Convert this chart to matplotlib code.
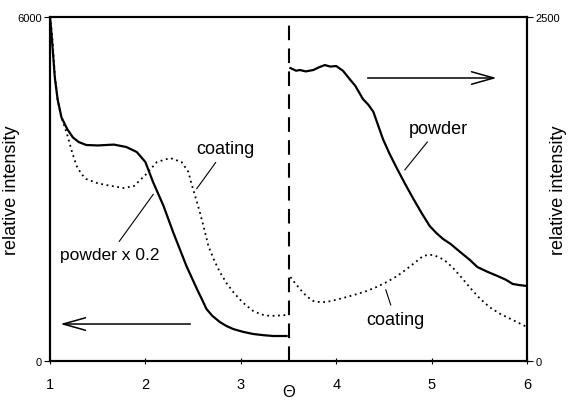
import matplotlib
matplotlib.use('Agg')
import matplotlib.pyplot as plt

plt.rcParams['font.family'] = ['Liberation Sans', 'DejaVu Sans']

# left part (left axis): powder x 0.2 and coating
theta_pl = [1.0, 1.02, 1.05, 1.08, 1.12, 1.18, 1.24, 1.3, 1.38, 1.5, 1.59, 1.67, 1.8, 1.91,
            2.0, 2.08, 2.19, 2.29, 2.43, 2.54, 2.6, 2.64, 2.7, 2.78, 2.85, 2.92, 3.02, 3.13,
            3.24, 3.34, 3.48]
powder_l = [6000, 5616, 4950, 4560, 4250, 4047, 3900, 3820, 3768, 3760, 3768, 3775, 3733, 3645,
            3470, 3122, 2704, 2250, 1657, 1256, 1050, 907, 790, 680, 610, 558, 510, 471,
            450, 436, 436]
theta_cl = [1.0, 1.02, 1.05, 1.08, 1.12, 1.18, 1.23, 1.28, 1.33, 1.38, 1.5, 1.59, 1.77, 1.88,
            2.0, 2.12, 2.26, 2.38, 2.45, 2.49, 2.53, 2.57, 2.62, 2.66, 2.72, 2.78, 2.85, 2.92,
            3.02, 3.13, 3.22, 3.31, 3.48]
coating_l = [6000, 5740, 5000, 4550, 4250, 3950, 3650, 3400, 3260, 3175, 3100, 3070, 3017, 3052,
             3245, 3470, 3541, 3470, 3300, 3052, 2830, 2600, 2280, 2006, 1760, 1552, 1360, 1204,
             1020, 872, 810, 785, 802]

# right part (right axis)
theta_pr = [3.52, 3.58, 3.62, 3.68, 3.76, 3.82, 3.88, 3.94, 4.0, 4.07, 4.14, 4.2, 4.28, 4.34,
            4.39, 4.49, 4.56, 4.64, 4.72, 4.81, 4.9, 4.98, 5.05, 5.12, 5.2, 5.3, 5.4, 5.48,
            5.58, 5.69, 5.78, 5.85, 5.92, 6.0]
powder_r = [2129, 2110, 2115, 2105, 2115, 2135, 2151, 2140, 2144, 2110, 2050, 2000, 1904, 1860,
            1810, 1613, 1505, 1395, 1290, 1177, 1070, 981, 930, 887, 850, 792, 735, 683,
            650, 618, 590, 560, 552, 545]
theta_cr = [3.52, 3.57, 3.62, 3.69, 3.76, 3.83, 3.9, 4.0, 4.11, 4.22, 4.32, 4.43, 4.53, 4.64,
            4.74, 4.83, 4.91, 4.97, 5.02, 5.09, 5.16, 5.23, 5.3, 5.4, 5.51, 5.61, 5.72, 5.86, 6.0]
coating_r = [610, 565, 523, 470, 436, 428, 429, 445, 465, 487, 509, 540, 574, 618,
             669, 718, 763, 772, 770, 750, 719, 672, 618, 535, 451, 390, 342, 295, 247]

fig = plt.figure(figsize=(5.69, 4.02), dpi=100)
ax = fig.add_axes([0.0879, 0.0995, 0.8383, 0.8556])
ax2 = ax.twinx()

lw = 1.6
ax.plot(theta_pl, powder_l, color='black', lw=lw)
ax.plot(theta_cl, coating_l, color='black', lw=1.3, linestyle=(0, (1, 2)))
ax2.plot(theta_pr, powder_r, color='black', lw=lw)
ax2.plot(theta_cr, coating_r, color='black', lw=1.3, linestyle=(0, (1, 2)))

ax.axvline(3.5, color='black', lw=1.5, linestyle=(0, (7, 4)))

ax.set_xlim(1, 6)
ax.set_ylim(0, 6000)
ax2.set_ylim(0, 2500)
ax.set_xticks([1, 2, 3, 4, 5, 6])
ax.set_yticks([0, 6000])
ax2.set_yticks([0, 2500])
ax.tick_params(axis='x', direction='inout', length=5, labelsize=10.5, pad=9)
ax.tick_params(axis='y', direction='out', length=4, labelsize=8, pad=2)
ax2.tick_params(axis='y', direction='out', length=4, labelsize=8, pad=2)
for a in (ax, ax2):
    for s in a.spines.values():
        s.set_linewidth(1.5)

ax.set_ylabel('relative intensity', fontsize=13)
ax2.set_ylabel('relative intensity', fontsize=13)
ax.yaxis.set_label_coords(-0.063, 0.5)
ax2.yaxis.set_label_coords(1.048, 0.5)
ax.set_xlabel('Θ', fontsize=12, labelpad=-5)

arrow = dict(arrowstyle='->,head_length=1.6,head_width=0.45', color='black', lw=1.1)
ax.annotate('', xy=(1.08, 645), xytext=(2.5, 645), arrowprops=arrow)
ax2.annotate('', xy=(5.71, 2057), xytext=(4.3, 2057), arrowprops=arrow)

line = dict(arrowstyle='-', color='black', lw=0.8)
ax.annotate('coating', xy=(2.52, 2965), xytext=(2.84, 3700), fontsize=13,
            ha='center', va='center', arrowprops=line)
ax.annotate('powder x 0.2', xy=(2.10, 2948), xytext=(1.63, 1866), fontsize=12.5,
            ha='center', va='center', arrowprops=line)
ax2.annotate('powder', xy=(4.70, 1373), xytext=(5.07, 1690), fontsize=13,
             ha='center', va='center', arrowprops=line)
ax2.annotate('coating', xy=(4.51, 538), xytext=(4.62, 305), fontsize=13,
             ha='center', va='center', arrowprops=line)

fig.savefig('out.png', dpi=100)
